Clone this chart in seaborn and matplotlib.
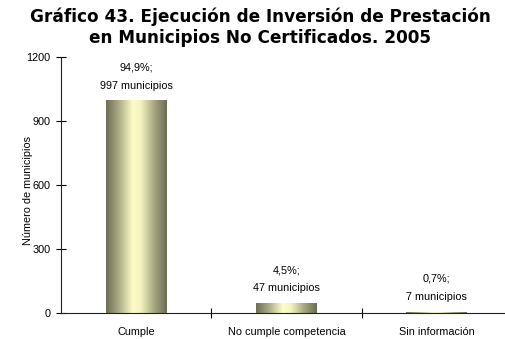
import numpy as np
import pandas as pd
import matplotlib
matplotlib.use("Agg")
import matplotlib.pyplot as plt
import seaborn as sns
from matplotlib.colors import LinearSegmentedColormap

categorias = ["Cumple", "No cumple competencia", "Sin información"]
municipios = [997, 47, 7]
porcentajes = ["94,9%", "4,5%", "0,7%"]
y_ticks = [0, 300, 600, 900, 1200]

sns.set_theme(style="white")
narrow = ["Liberation Sans Narrow", "Liberation Sans", "DejaVu Sans"]
plt.rcParams["font.family"] = narrow
plt.rcParams["text.color"] = "black"
plt.rcParams["axes.labelcolor"] = "black"

fig = plt.figure(figsize=(5.05, 3.39), dpi=100)
W, H = 505, 339
x0, x1 = 61, 512
y0, y1 = 313, 57
ax = fig.add_axes([x0 / W, 1 - y0 / H, (x1 - x0) / W, (y0 - y1) / H])

df = pd.DataFrame({"categoria": categorias, "municipios": municipios})
sns.barplot(data=df, x="categoria", y="municipios", ax=ax, width=0.405,
            color="#d8d8a8", saturation=1, edgecolor="none")

ax.set_xlim(-0.5, 2.5)
ax.set_ylim(0, 1200)
ax.set_yticks(y_ticks)
ax.set_xticks([0.5, 1.5], minor=True)
ax.tick_params(axis="x", which="major", length=0, labelsize=7.8, pad=10, colors="black")
ax.tick_params(axis="x", which="minor", length=7, direction="inout", width=0.8, color="black")
ax.tick_params(axis="y", length=7, direction="inout", width=0.8, labelsize=7.8, colors="black", pad=4)
ax.tick_params(which="both", bottom=True, left=True)

for side in ["top", "right"]:
    ax.spines[side].set_visible(False)
for side in ["left", "bottom"]:
    ax.spines[side].set_color("#222222")
    ax.spines[side].set_linewidth(0.8)

ax.set_xlabel("")
ax.set_ylabel("Número de municipios", fontsize=7.8)
ax.yaxis.set_label_coords(-0.063, 0.48)

# cylinder-like horizontal shading for each bar
cmap = LinearSegmentedColormap.from_list(
    "olivo", [(0.0, "#6e6e55"), (0.2, "#a8a882"), (0.44, "#fdfdc8"),
              (0.57, "#f4f4c0"), (0.8, "#a4a47e"), (1.0, "#6c6c54")])
grad = np.linspace(0, 1, 256).reshape(1, -1)
for patch in ax.patches:
    bx, by = patch.get_x(), patch.get_y()
    bw, bh = patch.get_width(), patch.get_height()
    im = ax.imshow(grad, cmap=cmap, aspect="auto", interpolation="bicubic",
                   extent=[bx, bx + bw, by, by + bh], zorder=patch.get_zorder() + 0.1)
    im.set_clip_path(patch)
ax.set_xlim(-0.5, 2.5)
ax.set_ylim(0, 1200)

for i, (v, p) in enumerate(zip(municipios, porcentajes)):
    ax.annotate(f"{p};\n{v} municipios", xy=(i, v), xytext=(0, 7),
                textcoords="offset points", ha="center", va="bottom",
                fontsize=7.8, linespacing=2.0, color="black")

fig.text(0.515, 1 - 27 / H, "Gráfico 43. Ejecución de Inversión de Prestación\nen Municipios No Certificados. 2005",
         ha="center", va="center", fontsize=12.2, fontweight="bold",
         family=["DejaVu Sans"], linespacing=1.25, color="black")

fig.savefig("out.png", dpi=100)
